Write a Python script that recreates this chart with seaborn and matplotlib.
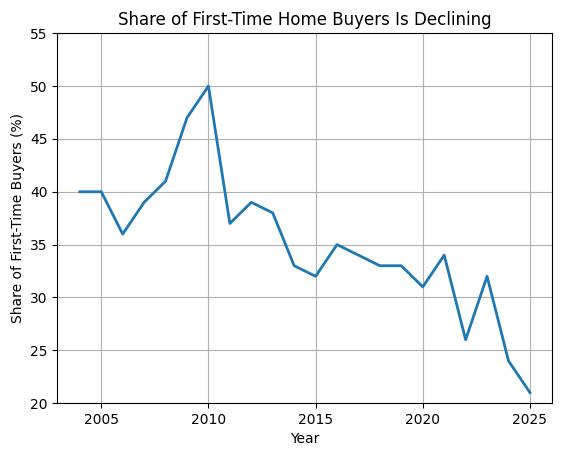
import pandas as pd
import matplotlib
matplotlib.use("Agg")
import matplotlib.pyplot as plt
import seaborn as sns

# values
years = [2004, 2005, 2006, 2007, 2008, 2009, 2010, 2011, 2012, 2013, 2014,
         2015, 2016, 2017, 2018, 2019, 2020, 2021, 2022, 2023, 2024, 2025]
share = [40, 40, 36, 39, 41, 47, 50, 37, 39, 38, 33,
         32, 35, 34, 33, 33, 31, 34, 26, 32, 24, 21]

data = pd.DataFrame({"Year": years, "Share": share})

fig, ax = plt.subplots(figsize=(5.62, 4.55), dpi=100)
sns.lineplot(data=data, x="Year", y="Share", ax=ax, color="#1f77b4", linewidth=2)
ax.set_ylim(20, 55)
ax.set_xticks([2005, 2010, 2015, 2020, 2025])
ax.grid(True)
ax.set_xlabel("Year")
ax.set_ylabel("Share of First-Time Buyers (%)")
ax.set_title("Share of First-Time Home Buyers Is Declining")
fig.subplots_adjust(left=0.102, right=0.983, top=0.927, bottom=0.114)
fig.savefig("out.png", dpi=100)
